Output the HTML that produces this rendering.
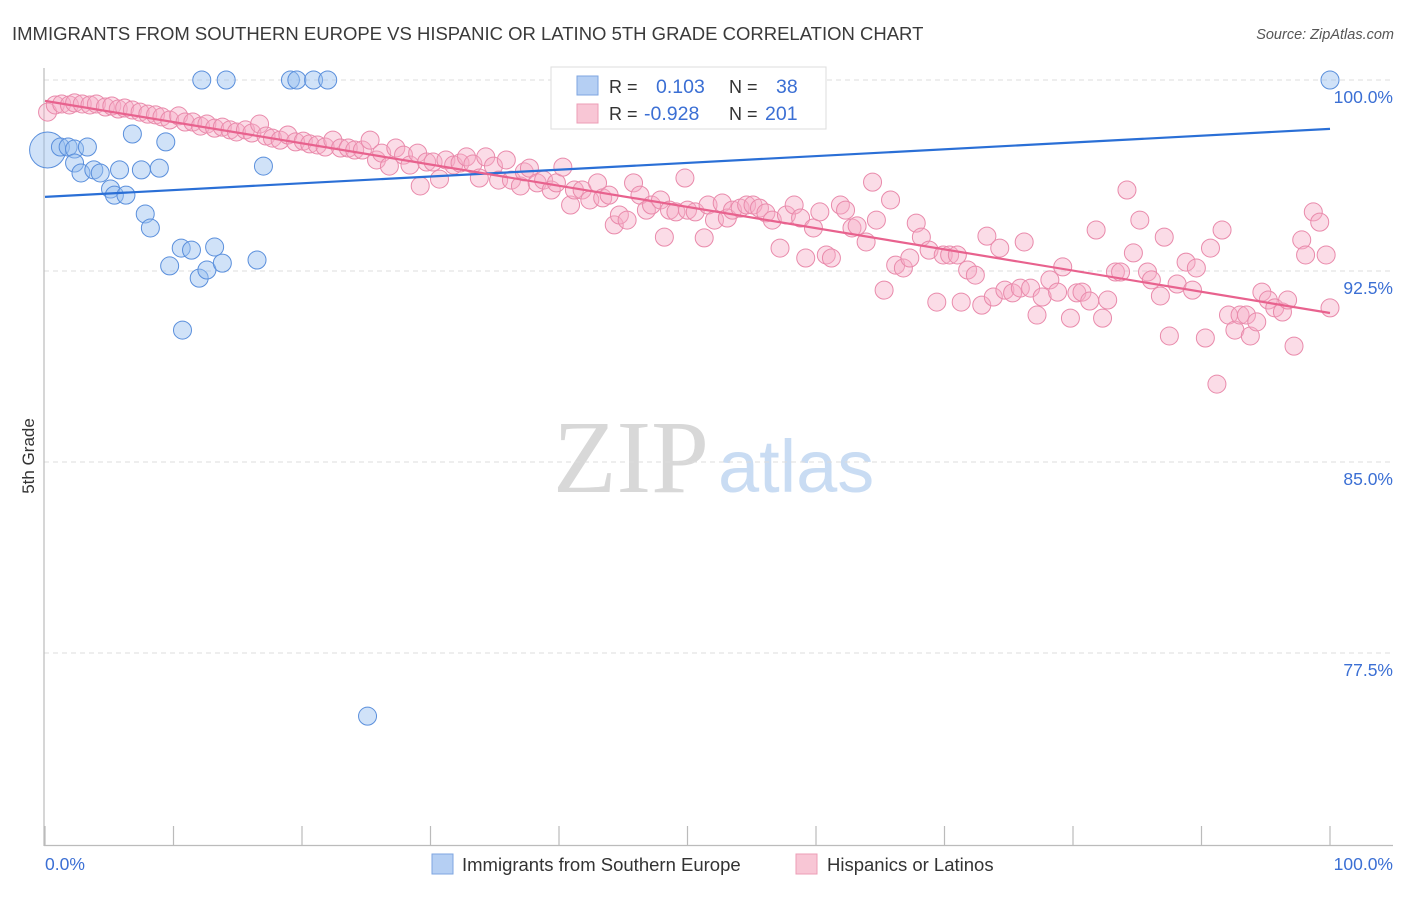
<!DOCTYPE html>
<html><head><meta charset="utf-8"><style>
body{margin:0;background:#fff;font-family:"Liberation Sans",sans-serif;}
svg text{font-family:"Liberation Sans",sans-serif;}
</style></head><body>
<svg id="chart" width="1406" height="892" viewBox="0 0 1406 892" xmlns="http://www.w3.org/2000/svg">
<text x="12" y="40" font-size="18.5" fill="#3a3a3a">IMMIGRANTS FROM SOUTHERN EUROPE VS HISPANIC OR LATINO 5TH GRADE CORRELATION CHART</text>
<text x="1394" y="39" font-size="14.5" fill="#555" font-style="italic" text-anchor="end">Source: ZipAtlas.com</text>
<g>
<text x="553" y="492" font-size="104" fill="#d8d8d8" font-family="Liberation Serif" style="font-family:'Liberation Serif',serif">ZIP</text>
<text x="718" y="492" font-size="74" fill="#c9dcf3">atlas</text>
</g>
<g id="grid"></g>
<line x1="44" y1="68" x2="44" y2="846" stroke="#bbb" stroke-width="1.2"/>
<line x1="44" y1="845.5" x2="1393" y2="845.5" stroke="#bbb" stroke-width="1.2"/>
<g id="ticks"></g>
<g id="ylabels"></g>
<text transform="translate(34,456) rotate(-90)" font-size="17" fill="#333" text-anchor="middle">5th Grade</text>
<text x="45" y="870" font-size="17.5" fill="#3b6fd4">0.0%</text>
<text x="1393" y="870" font-size="17.5" fill="#3b6fd4" text-anchor="end">100.0%</text>
<g id="pink"></g>
<g id="blue"></g>
<g id="lines"></g>
<g>
<rect x="551" y="67" width="275" height="62" fill="#fff" stroke="#ddd"/>
<rect x="577" y="76" width="21" height="19" fill="#b5cff3" stroke="#7ea6e0"/>
<rect x="577" y="104" width="21" height="19" fill="#f8c6d5" stroke="#ec9db6"/>
<text x="609" y="93" font-size="18" fill="#333">R =</text>
<text x="656" y="93" font-size="19.5" fill="#3b6fd4">0.103</text>
<text x="729" y="93" font-size="18" fill="#333">N =</text>
<text x="776" y="93" font-size="19.5" fill="#3b6fd4">38</text>
<text x="609" y="120" font-size="18" fill="#333">R =</text>
<text x="644" y="120" font-size="19.5" fill="#3b6fd4">-0.928</text>
<text x="729" y="120" font-size="18" fill="#333">N =</text>
<text x="765" y="120" font-size="19.5" fill="#3b6fd4">201</text>
</g>
<g>
<rect x="432" y="854" width="21" height="20" fill="#b5cff3" stroke="#7ea6e0"/>
<text x="462" y="871" font-size="18.5" fill="#333">Immigrants from Southern Europe</text>
<rect x="796" y="854" width="21" height="20" fill="#f8c6d5" stroke="#ec9db6"/>
<text x="827" y="871" font-size="18.5" fill="#333">Hispanics or Latinos</text>
</g>
</svg>
<script>
const yTicks=[100,92.5,85,77.5];
const yTickLabels=["100.0%","92.5%","85.0%","77.5%"];
const xTickVals=[0,10,20,30,40,50,60,70,80,90,100];
const blueX=[0.2,1.2,1.8,2.3,3.3,2.3,2.8,3.8,4.3,5.1,5.4,6.3,5.8,6.8,7.5,7.8,8.2,8.9,9.4,9.7,10.6,11.4,12.0,12.6,13.2,13.8,16.5,17.0,10.7,12.2,14.1,19.1,19.6,20.9,22.0,44.7,25.1,100];
const blueY=[97.25,97.37,97.37,97.29,97.37,96.74,96.35,96.47,96.35,95.72,95.48,95.48,96.47,97.88,96.47,94.74,94.19,96.54,97.57,92.70,93.40,93.32,92.22,92.54,93.44,92.81,92.93,96.62,90.18,100,100,100,100,100,100,100,75.02,100];
const pinkX=[0.2,0.8,1.3,1.9,2.3,2.9,3.5,4.0,4.7,5.2,5.7,6.2,6.8,7.4,8.0,8.6,9.1,9.7,10.4,10.9,11.5,12.1,12.6,13.2,13.8,14.4,14.9,15.6,16.1,16.7,17.2,17.7,18.3,18.9,19.5,20.1,20.6,21.2,21.8,22.4,23.0,23.6,24.1,24.7,25.3,25.8,26.2,26.8,27.3,27.9,28.4,29.0,29.2,29.7,30.2,30.7,31.2,31.8,32.3,32.8,33.3,33.8,34.3,34.9,35.3,35.9,36.3,37.0,37.3,37.7,38.3,38.8,39.4,39.8,40.3,40.9,41.2,41.8,42.4,43.0,43.4,43.9,44.3,44.7,45.3,45.8,46.3,46.8,47.2,47.9,48.2,48.6,49.1,49.8,50.0,50.6,51.3,51.6,52.1,52.7,53.1,53.5,54.1,54.6,55.1,55.6,56.1,56.6,57.2,57.7,58.3,58.8,59.2,59.8,60.3,60.8,61.2,61.9,62.3,62.8,63.2,63.9,64.4,64.7,65.3,65.8,66.2,66.8,67.3,67.8,68.2,68.8,69.4,69.9,70.4,71.0,71.3,71.8,72.4,72.9,73.3,73.8,74.3,74.7,75.3,75.9,76.2,76.7,77.2,77.6,78.2,78.8,79.2,79.8,80.3,80.7,81.3,81.8,82.3,82.7,83.3,83.7,84.2,84.7,85.2,85.8,86.1,86.8,87.1,87.5,88.1,88.8,89.3,89.6,90.3,90.7,91.2,91.6,92.1,92.6,93.0,93.5,93.8,94.3,94.7,95.2,95.7,96.3,96.7,97.2,97.8,98.1,98.7,99.2,99.7,100];
const pinkY=[98.74,99.02,99.06,99.02,99.10,99.06,99.02,99.06,98.94,98.98,98.86,98.90,98.82,98.74,98.66,98.63,98.55,98.43,98.59,98.35,98.35,98.19,98.27,98.11,98.15,98.04,97.96,98.04,97.92,98.27,97.80,97.72,97.64,97.84,97.57,97.60,97.49,97.45,97.37,97.64,97.33,97.33,97.25,97.25,97.64,96.86,97.13,96.62,97.33,97.05,96.66,97.13,95.84,96.78,96.78,96.11,96.86,96.66,96.74,96.98,96.70,96.15,96.98,96.62,96.07,96.86,96.07,95.84,96.39,96.54,95.96,96.07,95.68,95.96,96.58,95.09,95.68,95.68,95.29,95.96,95.37,95.48,94.31,94.70,94.50,95.96,95.48,94.89,95.09,95.29,93.83,94.89,94.82,96.15,94.89,94.82,93.80,95.09,94.50,95.17,94.58,94.89,94.97,95.09,95.09,94.97,94.78,94.50,93.40,94.70,95.09,94.58,93.01,94.19,94.82,93.13,93.01,95.09,94.89,94.19,94.27,93.64,95.99,94.50,91.75,95.29,92.73,92.62,93.01,94.38,93.83,93.32,91.28,93.13,93.13,93.13,91.28,92.54,92.34,91.16,93.87,91.48,93.40,91.75,91.64,91.83,93.64,91.83,90.77,91.48,92.15,91.67,92.66,90.65,91.64,91.67,91.32,94.11,90.65,91.36,92.46,92.46,95.68,93.21,94.50,92.46,92.15,91.52,93.83,89.95,91.99,92.85,91.75,92.62,89.87,93.40,88.06,94.11,90.77,90.18,90.77,90.77,89.95,90.50,91.67,91.36,91.05,90.89,91.36,89.55,93.72,93.13,94.82,94.42,93.13,91.05];
const blueTrend=[95.41,98.08];
const pinkTrend=[99.18,90.85];

const NS="http://www.w3.org/2000/svg";
const X0=45,X1=1330,Y100=80,PXPER=191/7.5;
function sx(v){return X0+(X1-X0)*v/100;}
function sy(v){return Y100+(100-v)*PXPER;}
function mk(tag,attrs,parent){const e=document.createElementNS(NS,tag);for(const k in attrs)e.setAttribute(k,attrs[k]);parent.appendChild(e);return e;}
const grid=document.getElementById('grid'),yl=document.getElementById('ylabels'),tk=document.getElementById('ticks');
yTicks.forEach((t,i)=>{
  const l=mk('line',{x1:44,x2:1393,y1:sy(t),y2:sy(t),stroke:'#ddd','stroke-dasharray':'5,4'},grid);
  
  
  const tx=mk('text',{x:1393,y:sy(t)+23,'font-size':17.5,fill:'#3b6fd4','text-anchor':'end'},yl);
  tx.textContent=yTickLabels[i];
  
  
});
xTickVals.forEach(v=>{
  const l=mk('line',{x1:sx(v),x2:sx(v),y1:826,y2:845,stroke:'#bbb','stroke-width':1.2},tk);
  
  
});
const pg=document.getElementById('pink');
pinkX.forEach((x,i)=>{
  const c=mk('circle',{cx:sx(x),cy:sy(pinkY[i]),r:9,fill:'rgba(246,172,197,0.42)',stroke:'#e98aab','stroke-width':1},pg);
  
  
});
const bg=document.getElementById('blue');
blueX.forEach((x,i)=>{
  const c=mk('circle',{cx:sx(x),cy:sy(blueY[i]),r:i===0?18:9,fill:'rgba(150,190,240,0.45)',stroke:'#5a8fdc','stroke-width':1},bg);
  
  
});
const lg=document.getElementById('lines');
const bl=mk('line',{x1:sx(0),y1:sy(blueTrend[0]),x2:sx(100),y2:sy(blueTrend[1]),stroke:'#2a6fd6','stroke-width':2.2},lg);


const pl=mk('line',{x1:sx(0),y1:sy(pinkTrend[0]),x2:sx(100),y2:sy(pinkTrend[1]),stroke:'#e8628e','stroke-width':2.2},lg);


</script>
</body></html>
